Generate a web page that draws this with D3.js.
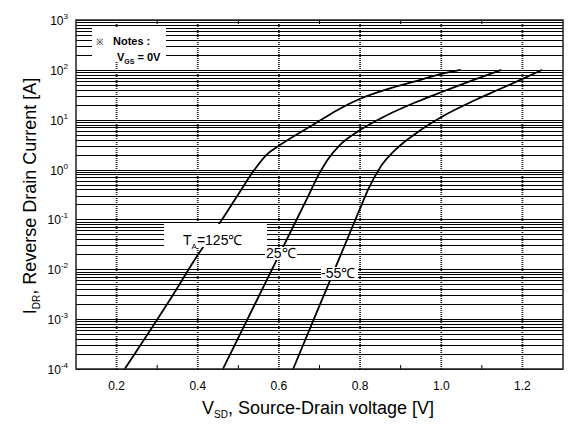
<!DOCTYPE html>
<html>
<head>
<meta charset="utf-8">
<script src="https://cdn.jsdelivr.net/npm/d3@7"></script>
<style>
  html, body { margin: 0; padding: 0; background: #fff; }
  svg { display: block; }
</style>
</head>
<body>
<svg id="chart" width="573" height="428" font-family="'Liberation Sans', Arial, Helvetica, sans-serif"></svg>
<script>
// Reverse drain current vs source-drain voltage at three temperatures
const vsd125 = [0.220, 0.331, 0.400, 0.459, 0.500, 0.540, 0.570, 0.600, 0.650, 0.700, 0.750, 0.800, 0.866, 0.940, 1.006, 1.048];
const idr125 = [1e-4, 2.42e-3, 1.93e-2, 0.097, 0.32, 1.0, 2.0, 3.0, 5.4, 9.5, 16.6, 26.3, 40.7, 60.3, 85.1, 100];

const vsd25 = [0.462, 0.545, 0.611, 0.668, 0.700, 0.720, 0.750, 0.800, 0.866, 0.940, 1.006, 1.080, 1.148];
const idr25 = [1e-4, 2.34e-3, 0.0288, 0.25, 0.85, 1.58, 3.1, 6.2, 12.3, 22.9, 37.2, 63.1, 100];

const vsdM55 = [0.635, 0.700, 0.760, 0.800, 0.820, 0.850, 0.890, 0.940, 1.006, 1.080, 1.146, 1.203, 1.249];
const idrM55 = [1e-4, 1.86e-3, 0.0275, 0.166, 0.40, 1.12, 2.63, 5.5, 12.0, 24.0, 41.7, 67.6, 100];

const xTicks = [0.2, 0.4, 0.6, 0.8, 1.0, 1.2];
const xMinorTicks = [0.3, 0.5, 0.7, 0.9, 1.1];
const yDecades = [-4, -3, -2, -1, 0, 1, 2, 3];

const svg = d3.select("#chart");
const L = 76, R = 563, T = 20, B = 369;

const x = d3.scaleLinear().domain([0.1, 1.3]).range([L, R]);
const y = d3.scaleLog().domain([1e-4, 1e3]).range([B, T]);

// horizontal grid: every 1..9 x 10^n
const hLines = [];
yDecades.forEach(d => {
  if (d === 3) { hLines.push(1000); return; }
  for (let k = 1; k <= 9; k++) hLines.push(k * Math.pow(10, d));
});
svg.append("g").selectAll("line").data(hLines).join("line")
  .attr("x1", L).attr("x2", R)
  .attr("y1", d => Math.round(y(d)) + 0.5).attr("y2", d => Math.round(y(d)) + 0.5)
  .attr("stroke", "#000").attr("stroke-width", 1);

// vertical dotted grid at major ticks
svg.append("g").selectAll("line").data(xTicks).join("line")
  .attr("x1", d => x(d)).attr("x2", d => x(d))
  .attr("y1", T).attr("y2", B)
  .attr("stroke", "#222").attr("stroke-width", 1.8)
  .attr("stroke-dasharray", "1,1");

// minor ticks on bottom and top edges
svg.append("g").selectAll("line").data(xMinorTicks).join("line")
  .attr("x1", d => x(d)).attr("x2", d => x(d))
  .attr("y1", B).attr("y2", B - 4)
  .attr("stroke", "#000").attr("stroke-width", 1);
svg.append("g").selectAll("line").data(xMinorTicks).join("line")
  .attr("x1", d => x(d)).attr("x2", d => x(d))
  .attr("y1", T).attr("y2", T + 4)
  .attr("stroke", "#000").attr("stroke-width", 1);

// notes box
const notes = svg.append("g");
notes.append("rect").attr("x", 92).attr("y", 28).attr("width", 74).attr("height", 33).attr("fill", "#fff");
notes.append("text").attr("x", 96).attr("y", 45).attr("font-size", 9).text("\u203B");
notes.append("text").attr("x", 113).attr("y", 45).attr("font-size", 11).attr("font-weight", "bold")
  .text("Notes :");
const vgs = notes.append("text").attr("x", 117).attr("y", 61).attr("font-size", 11).attr("font-weight", "bold");
vgs.append("tspan").text("V");
vgs.append("tspan").attr("font-size", 7).attr("dy", 3).text("GS");
vgs.append("tspan").attr("dy", -3).text(" = 0V");

// curves
const line = d3.line().x(d => x(d[0])).y(d => y(d[1])).curve(d3.curveMonotoneX);
const series = [
  d3.zip(vsd125, idr125),
  d3.zip(vsd25, idr25),
  d3.zip(vsdM55, idrM55)
];
svg.append("g").selectAll("path").data(series).join("path")
  .attr("d", line).attr("fill", "none").attr("stroke", "#000").attr("stroke-width", 1.8);

// curve labels on white boxes
function label(bx, by, bw, bh, tx, ty, build) {
  svg.append("rect").attr("x", bx).attr("y", by).attr("width", bw).attr("height", bh).attr("fill", "#fff");
  const t = svg.append("text").attr("x", tx).attr("y", ty).attr("font-size", 14);
  build(t);
}
label(164, 224, 103, 23, 183, 245, t => {
  t.append("tspan").text("T");
  t.append("tspan").attr("font-size", 8).attr("dy", 4).text("A");
  t.append("tspan").attr("dy", -4).text("=125\u2103");
});
label(265, 247, 32, 13, 266, 258, t => t.text("25\u2103"));
label(321, 267, 37, 13, 321, 278, t => t.text("-55\u2103"));

// frame
svg.append("rect").attr("x", L).attr("y", T).attr("width", R - L).attr("height", B - T)
  .attr("fill", "none").attr("stroke", "#222").attr("stroke-width", 1.5);

// x tick labels
svg.append("g").selectAll("text").data(xTicks).join("text")
  .attr("x", d => x(d)).attr("y", 390).attr("text-anchor", "middle").attr("font-size", 12)
  .text(d => d.toFixed(1));

// y tick labels 10^n
const yl = svg.append("g").selectAll("text").data(yDecades).join("text")
  .attr("x", 68).attr("y", d => y(Math.pow(10, d)) + 5).attr("text-anchor", "end").attr("font-size", 12);
yl.append("tspan").text("10");
yl.append("tspan").attr("font-size", 8).attr("dy", -6).text(d => String(d));

// axis titles
const xt = svg.append("text").attr("x", 318).attr("y", 414).attr("text-anchor", "middle").attr("font-size", 18);
xt.append("tspan").text("V");
xt.append("tspan").attr("font-size", 10).attr("dy", 4).text("SD");
xt.append("tspan").attr("dy", -4).text(", Source-Drain voltage [V]");

const yt = svg.append("text").attr("transform", "translate(36,196) rotate(-90)")
  .attr("text-anchor", "middle").attr("font-size", 18);
yt.append("tspan").text("I");
yt.append("tspan").attr("font-size", 10).attr("dy", 4).text("DR");
yt.append("tspan").attr("dy", -4).text(", Reverse Drain Current [A]");
</script>
</body>
</html>
